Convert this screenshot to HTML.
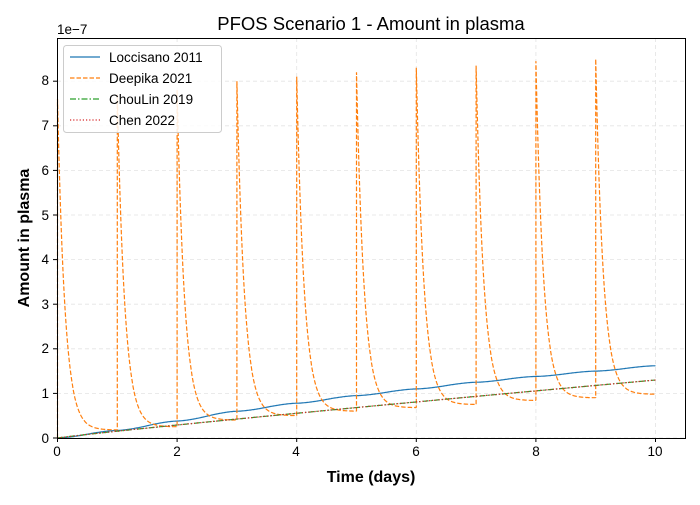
<!DOCTYPE html>
<html><head><meta charset="utf-8"><style>
body{margin:0;background:#fff;}
svg text{font-family:"Liberation Sans","DejaVu Sans",sans-serif;}
</style></head><body>
<svg id="s" width="700" height="500" xmlns="http://www.w3.org/2000/svg">
<rect width="700" height="500" fill="#fff"/>
<g id="grid" stroke="#e3e3e3" stroke-width="0.8" stroke-dasharray="4,3"></g>
<g id="series" fill="none"></g>
<rect x="57.5" y="38.5" width="628" height="400" fill="none" stroke="#000" stroke-width="1"/>
<g id="ticks" stroke="#000" stroke-width="1"></g>
<g font-size="13.5" fill="#000">
<text x="57" y="456" text-anchor="middle">0</text>
<text x="177" y="456" text-anchor="middle">2</text>
<text x="296" y="456" text-anchor="middle">4</text>
<text x="416" y="456" text-anchor="middle">6</text>
<text x="536" y="456" text-anchor="middle">8</text>
<text x="655" y="456" text-anchor="middle">10</text>
<text x="49" y="443" text-anchor="end">0</text>
<text x="49" y="398" text-anchor="end">1</text>
<text x="49" y="353" text-anchor="end">2</text>
<text x="49" y="309" text-anchor="end">3</text>
<text x="49" y="264" text-anchor="end">4</text>
<text x="49" y="220" text-anchor="end">5</text>
<text x="49" y="175" text-anchor="end">6</text>
<text x="49" y="130" text-anchor="end">7</text>
<text x="49" y="85" text-anchor="end">8</text>
<text x="57" y="34">1e−7</text>
</g>
<text x="371" y="30" font-size="18.5" text-anchor="middle">PFOS Scenario 1 - Amount in plasma</text>
<text x="371" y="482" font-size="16" font-weight="bold" text-anchor="middle">Time (days)</text>
<text transform="translate(29,238) rotate(-90)" font-size="16" font-weight="bold" text-anchor="middle">Amount in plasma</text>
<g>
<rect x="63.5" y="45.5" width="158" height="87" rx="3" fill="#fff" fill-opacity="0.85" stroke="#ccc"/>
<line x1="70" y1="57" x2="100" y2="57" stroke="#1f77b4" stroke-width="1.2"/>
<line x1="70" y1="78" x2="100" y2="78" stroke="#ff7f0e" stroke-width="1.2" stroke-dasharray="4.5,2"/>
<line x1="70" y1="99" x2="100" y2="99" stroke="#2ca02c" stroke-width="1.2" stroke-dasharray="6,2,1.5,2"/>
<line x1="70" y1="120" x2="100" y2="120" stroke="#d62728" stroke-width="1.2" stroke-dasharray="1.2,2"/>
<g font-size="13.5"><text x="109" y="62">Loccisano 2011</text><text x="109" y="83">Deepika 2021</text><text x="109" y="104">ChouLin 2019</text><text x="109" y="125">Chen 2022</text></g>
</g>
</svg>
<script>
var X=function(t){return 57.5+t*59.8;},Y=function(v){return 438-v*44.6;};
var ns="http://www.w3.org/2000/svg";
function el(p,tag,a){var e=document.createElementNS(ns,tag);for(var k in a)e.setAttribute(k,a[k]);document.getElementById(p).appendChild(e);return e;}
for(var i=0;i<=10;i+=2){el("grid","line",{x1:X(i),x2:X(i),y1:38,y2:438});el("ticks","line",{x1:X(i),x2:X(i),y1:438,y2:442});}
for(var j=0;j<=8;j++){el("grid","line",{x1:57,x2:685,y1:Y(j),y2:Y(j)});el("ticks","line",{x1:53,x2:57,y1:Y(j),y2:Y(j)});}
var tr=[0,0.18,0.25,0.4,0.5,0.6,0.68,0.75,0.84,0.9,0.98];
var pk=[7.6,7.7,7.8,8.0,8.1,8.2,8.3,8.35,8.45,8.5];
var loc=[0,0.17,0.38,0.6,0.78,0.95,1.1,1.25,1.38,1.5,1.62];
var d="",dl="",dg="";
for(var n=0;n<10;n++){
 for(var k=0;k<=100;k++){
  var s=k/100,t=n+s,b=tr[n+1],v=b+(pk[n]-b)*Math.exp(-8*s);
  if(k==0)d+=(n==0?"M":"L")+X(t).toFixed(1)+","+Y(n==0?0:tr[n]).toFixed(1)+" ";
  d+="L"+X(t).toFixed(1)+","+Y(v).toFixed(1)+" ";
  var f=s<0.5?0.5*Math.pow(2*s,1.5):1-0.5*Math.pow(Math.max(0,2*(1-s)),1.5);
  var lv=loc[n]+(loc[n+1]-loc[n])*f;
  dl+=(n==0&&k==0?"M":"L")+X(t).toFixed(1)+","+Y(lv).toFixed(1)+" ";
  var gv=1.3*Math.pow(t/10,0.93);
  dg+=(n==0&&k==0?"M":"L")+X(t).toFixed(1)+","+Y(gv).toFixed(1)+" ";
 }
}
el("series","path",{d:dl,stroke:"#1f77b4","stroke-width":1.2});
el("series","path",{d:d,stroke:"#ff7f0e","stroke-width":1.2,"stroke-dasharray":"4.5,2"});
el("series","path",{d:dg,stroke:"#2ca02c","stroke-width":1.2,"stroke-dasharray":"6,2,1.5,2"});
el("series","path",{d:dg,stroke:"#d62728","stroke-width":1.2,"stroke-dasharray":"1.2,2"});
</script>
</body></html>
